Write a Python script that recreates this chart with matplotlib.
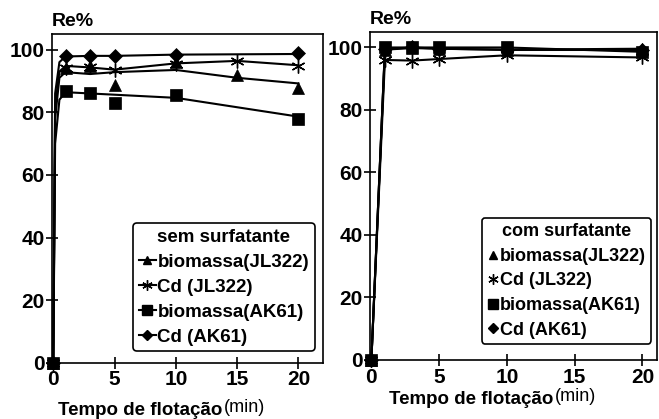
import numpy as np
import matplotlib
matplotlib.use("Agg")
import matplotlib.pyplot as plt
from matplotlib.lines import Line2D

plt.rcParams['font.family'] = ['Liberation Sans', 'DejaVu Sans']
plt.rcParams['font.weight'] = 'bold'

# measured points (min, Re%)
x_pts = [0, 1, 3, 5, 10, 15, 20]
x_pts_nofifteen = [0, 1, 3, 5, 10, 20]

# sem surfatante
sem_bio_jl = [0, 94, 94.7, 88.6, 95.9, 91.8, 87.9]
sem_cd_jl = [0, 94, 94.3, 93.5, 95.3, 96.4, 94.8]
sem_bio_ak = [0, 86.9, 86.2, 82.8, 85.5, 78.0]
sem_cd_ak = [0, 98, 98, 98, 98.4, 98.8]

# trend curves drawn through the data
x_fit_sem = [0, 0.15, 0.5, 1, 3, 5, 10, 15, 20]
fit_sem_bio_jl = [0, 78, 91, 92.8, 92.2, 92.8, 93.5, 91.0, 89.2]
fit_sem_cd_jl = [0, 82, 93, 94.8, 94.3, 93.6, 95.6, 96.4, 95.0]
fit_sem_bio_ak = [0, 70, 84, 86.4, 86.0, 85.6, 84.6, 81.6, 78.6]
fit_sem_cd_ak = [0, 86, 96, 97.8, 98.0, 98.0, 98.4, 98.5, 98.6]

# com surfatante
com_bio_jl = [0, 99.3, 99.8, 99.6, 99.3, 99.6]
com_cd_jl = [0, 96, 95.8, 96.3, 97.5, 96.8]
com_bio_ak = [0, 100, 100, 100, 100, 98.6]
com_cd_ak = [0, 99.5, 100, 99.6, 99.2, 99.2]

x_ticks = [0, 5, 10, 15, 20]
y_ticks = [0, 20, 40, 60, 80, 100]
labels = ["biomassa(JL322)", "Cd (JL322)", "biomassa(AK61)", "Cd (AK61)"]
markers = ['^', (6, 2, 0), 's', 'D']
msizes = [8, 10, 9, 7]

fig = plt.figure(figsize=(6.59, 4.19), dpi=100)
ax1 = fig.add_axes([0.079, 0.134, 0.411, 0.785])
ax2 = fig.add_axes([0.5615, 0.141, 0.436, 0.783])

def style(ax, xmax):
    ax.set_xlim(-0.1, xmax)
    ax.set_ylim(0, 105)
    ax.set_xticks(x_ticks)
    ax.set_yticks(y_ticks)
    ax.tick_params(direction='inout', length=9, width=1.2, labelsize=15, pad=1)
    for s in ax.spines.values():
        s.set_linewidth(1.2)

# left panel
fits = [fit_sem_bio_jl, fit_sem_cd_jl, fit_sem_bio_ak, fit_sem_cd_ak]
for f in fits:
    ax1.plot(x_fit_sem, f, color='black', lw=1.5, clip_on=False)
pts = [(x_pts, sem_bio_jl), (x_pts, sem_cd_jl), (x_pts_nofifteen, sem_bio_ak), (x_pts_nofifteen, sem_cd_ak)]
for (xx, yy), m, ms in zip(pts, markers, msizes):
    mew = 1.0 if m == (6, 2, 0) else 0.5
    ax1.plot(xx, yy, ls='none', marker=m, ms=ms, color='black', mew=mew, clip_on=False, zorder=3)
style(ax1, 22)

# right panel
com = [com_bio_jl, com_cd_jl, com_bio_ak, com_cd_ak]
for yy, m, ms in zip(com, markers, msizes):
    mew = 1.0 if m == (6, 2, 0) else 0.5
    ax2.plot(x_pts_nofifteen, yy, color='black', lw=1.5, marker=m, ms=ms, mew=mew, clip_on=False)
style(ax2, 21.1)

# legends
common = dict(loc='upper left', bbox_transform=fig.transFigure,
              handletextpad=0.1, labelspacing=0.42, borderpad=0.3,
              borderaxespad=0, fancybox=True, framealpha=1, edgecolor='black')

h1 = [Line2D([], [], color='black', lw=1.5, marker=m, ms=ms * 0.75) for m, ms in zip(markers, msizes)]
leg1 = ax1.legend(h1, labels, title="sem surfatante", bbox_to_anchor=(0.202, 0.468),
                  handlelength=0.9, prop={'size': 13.5, 'weight': 'bold'},
                  title_fontproperties={'size': 13.5, 'weight': 'bold'}, **common)
leg1.get_frame().set_linewidth(1.2)

h2 = [Line2D([], [], ls='none', color='black', marker=m, ms=ms * 0.75) for m, ms in zip(markers, msizes)]
leg2 = ax2.legend(h2, labels, title="com surfatante", bbox_to_anchor=(0.731, 0.480),
                  handlelength=0.6, prop={'size': 13, 'weight': 'bold'},
                  title_fontproperties={'size': 13, 'weight': 'bold'}, **common)
leg2.get_frame().set_linewidth(1.2)

# axis titles
fig.text(52 / 659, 1 - 22 / 419, "Re%", fontsize=14, fontweight='bold', va='center', ha='left')
fig.text(370 / 659, 1 - 20 / 419, "Re%", fontsize=14, fontweight='bold', va='center', ha='left')
fig.text(58 / 659, 1 - 410 / 419, "Tempo de flotação", fontsize=13.5, fontweight='bold', va='center')
fig.text(224 / 659, 1 - 407 / 419, "(min)", fontsize=13, fontweight='normal', va='center')
fig.text(389 / 659, 1 - 399 / 419, "Tempo de flotação", fontsize=13.5, fontweight='bold', va='center')
fig.text(555 / 659, 1 - 396 / 419, "(min)", fontsize=13, fontweight='normal', va='center')

fig.savefig("out.png", dpi=100)
